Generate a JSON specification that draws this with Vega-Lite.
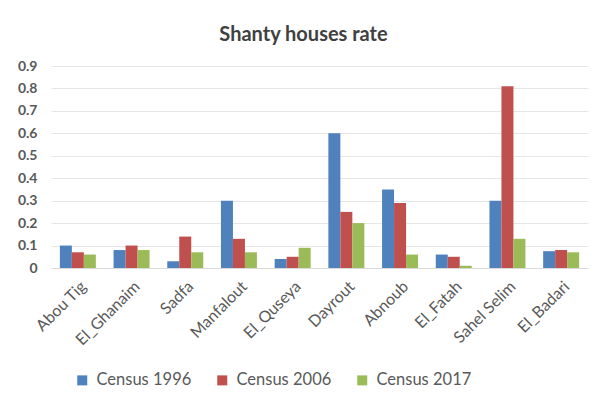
{
  "$schema": "https://vega.github.io/schema/vega-lite/v6.json",
  "width": 537,
  "height": 202,
  "autosize": {"type": "none"},
  "padding": {"left": 51, "top": 66, "right": 8, "bottom": 134},
  "background": "white",
  "title": {"text": "Shanty houses rate", "font": "Lato", "fontSize": 20, "fontWeight": "bold", "color": "#404040", "anchor": "middle", "offset": 14, "dx": -16},
  "data": {
    "values": [
      {"region": "Abou Tig", "series": "Census 1996", "value": 0.1},
      {"region": "Abou Tig", "series": "Census 2006", "value": 0.07},
      {"region": "Abou Tig", "series": "Census 2017", "value": 0.06},
      {"region": "El_Ghanaim", "series": "Census 1996", "value": 0.08},
      {"region": "El_Ghanaim", "series": "Census 2006", "value": 0.1},
      {"region": "El_Ghanaim", "series": "Census 2017", "value": 0.08},
      {"region": "Sadfa", "series": "Census 1996", "value": 0.03},
      {"region": "Sadfa", "series": "Census 2006", "value": 0.14},
      {"region": "Sadfa", "series": "Census 2017", "value": 0.07},
      {"region": "Manfalout", "series": "Census 1996", "value": 0.3},
      {"region": "Manfalout", "series": "Census 2006", "value": 0.13},
      {"region": "Manfalout", "series": "Census 2017", "value": 0.07},
      {"region": "El_Quseya", "series": "Census 1996", "value": 0.04},
      {"region": "El_Quseya", "series": "Census 2006", "value": 0.05},
      {"region": "El_Quseya", "series": "Census 2017", "value": 0.09},
      {"region": "Dayrout", "series": "Census 1996", "value": 0.6},
      {"region": "Dayrout", "series": "Census 2006", "value": 0.25},
      {"region": "Dayrout", "series": "Census 2017", "value": 0.2},
      {"region": "Abnoub", "series": "Census 1996", "value": 0.35},
      {"region": "Abnoub", "series": "Census 2006", "value": 0.29},
      {"region": "Abnoub", "series": "Census 2017", "value": 0.06},
      {"region": "El_Fatah", "series": "Census 1996", "value": 0.06},
      {"region": "El_Fatah", "series": "Census 2006", "value": 0.05},
      {"region": "El_Fatah", "series": "Census 2017", "value": 0.01},
      {"region": "Sahel Selim", "series": "Census 1996", "value": 0.3},
      {"region": "Sahel Selim", "series": "Census 2006", "value": 0.81},
      {"region": "Sahel Selim", "series": "Census 2017", "value": 0.13},
      {"region": "El_Badari", "series": "Census 1996", "value": 0.075},
      {"region": "El_Badari", "series": "Census 2006", "value": 0.08},
      {"region": "El_Badari", "series": "Census 2017", "value": 0.07}
    ]
  },
  "mark": {"type": "bar"},
  "encoding": {
    "x": {
      "field": "region", "type": "nominal", "sort": null,
      "scale": {"paddingInner": 0.33, "paddingOuter": 0.165},
      "axis": {"title": null, "labelAngle": -45, "labelFont": "Lato", "labelFontSize": 16, "labelColor": "#595959", "ticks": false, "domainColor": "#D9D9D9", "labelPadding": 10}
    },
    "xOffset": {"field": "series", "type": "nominal", "scale": {"paddingInner": 0, "paddingOuter": 0}},
    "y": {
      "field": "value", "type": "quantitative",
      "scale": {"domain": [0, 0.9], "nice": false},
      "axis": {"title": null, "values": [0, 0.1, 0.2, 0.3, 0.4, 0.5, 0.6, 0.7, 0.8, 0.9], "format": ".1~f", "labelFont": "Lato", "labelFontSize": 14, "labelFontWeight": "bold", "labelColor": "#595959", "ticks": false, "domain": false, "gridColor": "#E6E6E6", "labelPadding": 14}
    },
    "color": {
      "field": "series", "type": "nominal",
      "scale": {"domain": ["Census 1996", "Census 2006", "Census 2017"], "range": ["#4F81BD", "#C0504D", "#9BBB59"]},
      "legend": {"title": null, "orient": "none", "direction": "horizontal", "legendX": 23, "legendY": 306, "symbolType": "square", "symbolSize": 100, "symbolStrokeWidth": 0, "symbolOpacity": 1, "labelFont": "Lato", "labelFontSize": 16.5, "labelColor": "#595959", "columnPadding": 22, "labelOffset": 6}
    }
  },
  "config": {"view": {"stroke": null}}
}
